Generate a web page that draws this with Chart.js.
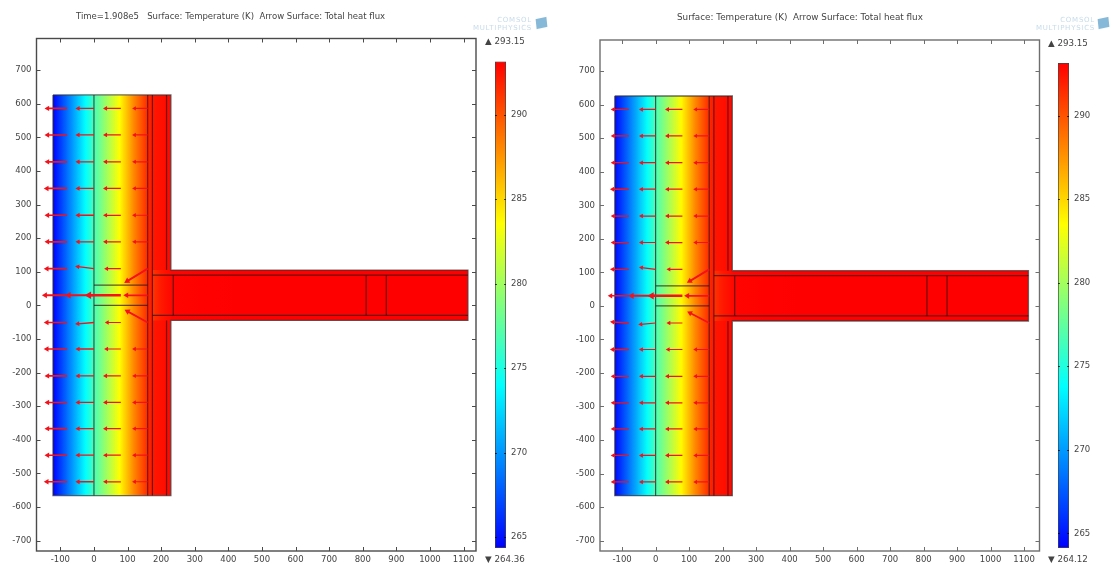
<!DOCTYPE html>
<html>
<head>
<meta charset="utf-8">
<script src="https://cdn.jsdelivr.net/npm/chart.js@4"></script>
<style>
  html, body { margin: 0; padding: 0; background: #fff; overflow: hidden; }
  body { position: relative; width: 1112px; height: 564px; font-family: "DejaVu Sans", sans-serif; color: #444; }
  canvas { position: absolute; filter: blur(0.35px); }
  .txt { position: absolute; font-size: 8.7px; line-height: 10px; white-space: pre; filter: blur(0.2px); }
  .logo { position: absolute; color: #c6dcea; font-size: 7px; letter-spacing: 0.75px; line-height: 7.5px; text-align: right; white-space: pre; filter: blur(0.3px); }
  .cube { position: absolute; width: 11px; height: 10px; background: #86b8d8; transform: rotate(-12deg) skewX(-6deg); filter: blur(0.4px); }
</style>
</head>
<body>
<canvas id="mainL" style="left:0;top:0"></canvas>
<canvas id="barL" style="left:495px;top:50px"></canvas>
<canvas id="mainR" style="left:563px;top:0"></canvas>
<canvas id="barR" style="left:1058px;top:50px"></canvas>

<div class="txt" style="left:76px;top:11px;font-size:8.53px">Time=1.908e5   Surface: Temperature (K)  Arrow Surface: Total heat flux</div>
<div class="txt" style="left:677px;top:12px;font-size:8.8px">Surface: Temperature (K)  Arrow Surface: Total heat flux</div>
<div class="txt" style="left:485px;top:36px">▲ 293.15</div>
<div class="txt" style="left:485px;top:554px">▼ 264.36</div>
<div class="txt" style="left:1048px;top:38px">▲ 293.15</div>
<div class="txt" style="left:1048px;top:554px">▼ 264.12</div>
<div class="logo" style="left:462px;top:17px;width:70px;">COMSOL
MULTIPHYSICS</div>
<div class="cube" style="left:536px;top:18px"></div>
<div class="logo" style="left:1025px;top:17px;width:70px;">COMSOL
MULTIPHYSICS</div>
<div class="cube" style="left:1098px;top:18px"></div>

<script>
  const xTicks = [-100, 0, 100, 200, 300, 400, 500, 600, 700, 800, 900, 1000, 1100];
  const yTicks = [700, 600, 500, 400, 300, 200, 100, 0, -100, -200, -300, -400, -500, -600, -700];
  const barTicks = [265, 270, 275, 280, 285, 290];

  // temperature read across the wall (x in mm, T in K)
  const wallX = [-122, -25, 0, 76, 118, 160, 174, 216, 229];
  const wallT = [264.4, 274, 276.5, 283.6, 288, 291.6, 292.3, 292.7, 292.8];
  const stemX = [174, 200, 236, 420, 1113];
  const stemT = [291.2, 292.2, 293, 293.15, 293.15];

  // outer boundary and inner layer lines
  const outlineX = [-122, 229, 229, 1113, 1113, 229, 229, -122, -122];
  const outlineY = [626, 626, 105, 105, -45, -45, -566, -566, 626];
  const innerLines = [
    [0, 626, 0, -566],
    [160, 626, 160, -566],
    [174, 626, 174, -566],
    [216, 626, 216, 105],
    [216, -45, 216, -566],
    [0, 60, 160, 60],
    [0, 0, 160, 0],
    [174, 90, 1113, 90],
    [174, -30, 1113, -30],
    [236, 90, 236, -30],
    [810, 90, 810, -30],
    [870, 90, 870, -30],
  ];

  // arrow tails, heat flux arrows read row by row, one list per column
  const arrowRows = [586, 507, 427, 348, 268, 189, 109, 30, -51, -130, -210, -289, -367, -446, -525];
  const arrowCols = [-80, 0, 80, 160];

  const leftDx = [
    [-58, -58, -58, -60, -58, -58, -60, -65, -60, -60, -58, -58, -58, -58, -60],
    [-47, -47, -47, -47, -47, -47, -48, -75, -48, -47, -47, -47, -47, -47, -47],
    [-45, -45, -45, -45, -45, -45, -42, -95, -40, -42, -45, -45, -45, -45, -45],
    [-39, -39, -39, -39, -39, -39, -61, -63, -60, -39, -39, -39, -39, -39, -39],
  ];
  const leftDy = [
    [0, 0, 0, 0, 0, 0, 0, 0, 0, 0, 0, 0, 0, 0, 0],
    [0, 0, 0, 0, 0, 0, 6, 0, -4, 0, 0, 0, 0, 0, 0],
    [0, 0, 0, 0, 0, 0, 0, 0, 0, 0, 0, 0, 0, 0, 0],
    [0, 0, 0, 0, 0, 0, -37, 0, 33, 0, 0, 0, 0, 0, 0],
  ];
  const rightDx = [
    [-46, -46, -46, -48, -46, -46, -48, -54, -48, -48, -46, -46, -46, -46, -46],
    [-42, -42, -42, -42, -42, -42, -42, -71, -44, -42, -42, -42, -42, -42, -42],
    [-44, -44, -44, -44, -44, -44, -40, -92, -40, -42, -44, -44, -44, -44, -44],
    [-40, -40, -40, -40, -40, -40, -58, -65, -57, -40, -40, -40, -40, -40, -40],
  ];
  const rightDy = [
    [0, 0, 0, 0, 0, 0, 0, 0, 3, 0, 0, 0, 0, 0, 0],
    [0, 0, 0, 0, 0, 0, 5, 0, -4, 0, 0, 0, 0, 0, 0],
    [0, 0, 0, 0, 0, 0, 0, 0, 0, 0, 0, 0, 0, 0, 0],
    [0, 0, 0, 0, 0, 0, -35, 0, 30, 0, 0, 0, 0, 0, 0],
  ];

  const leftRange = [264.36, 293.15];
  const rightRange = [264.12, 293.15];

  // blue - cyan - yellow - red in equal thirds of the range
  const rainbow = ["#0000ff", "#00ffff", "#ffff00", "#ff0000"];

  function tempColor(t, range) {
    let f = (t - range[0]) / (range[1] - range[0]);
    f = Math.min(1, Math.max(0, f));
    if (f < 1 / 3) return `rgb(0,${Math.round(f * 3 * 255)},255)`;
    if (f < 2 / 3) {
      const k = (f - 1 / 3) * 3;
      return `rgb(${Math.round(k * 255)},255,${Math.round((1 - k) * 255)})`;
    }
    return `rgb(255,${Math.round((1 - f) * 3 * 255)},0)`;
  }

  function profileFill(xs, ts, range) {
    return (c) => {
      const x = c.chart.scales.x;
      if (!c.chart.chartArea || !x) return "#f00";
      const x0 = x.getPixelForValue(xs[0]);
      const x1 = x.getPixelForValue(xs[xs.length - 1]);
      const g = c.chart.ctx.createLinearGradient(x0, 0, x1, 0);
      xs.forEach((v, i) => {
        g.addColorStop((v - xs[0]) / (xs[xs.length - 1] - xs[0]), tempColor(ts[i], range));
      });
      return g;
    };
  }

  // frame and inward tick marks, drawn from the chart's own scales
  function innerTicks(frameColor) {
    return {
      id: "innerTicks",
      afterDraw(chart) {
        const { ctx, chartArea: a, scales } = chart;
        ctx.save();
        ctx.strokeStyle = frameColor;
        ctx.lineWidth = 1;
        scales.x.ticks.forEach((t) => {
          const p = Math.round(scales.x.getPixelForValue(t.value)) + 0.5;
          ctx.beginPath();
          ctx.moveTo(p, a.top); ctx.lineTo(p, a.top + 4);
          ctx.moveTo(p, a.bottom); ctx.lineTo(p, a.bottom - 4);
          ctx.stroke();
        });
        scales.y.ticks.forEach((t) => {
          const p = Math.round(scales.y.getPixelForValue(t.value)) + 0.5;
          ctx.beginPath();
          ctx.moveTo(a.left, p); ctx.lineTo(a.left + 4, p);
          ctx.moveTo(a.right, p); ctx.lineTo(a.right - 4, p);
          ctx.stroke();
        });
        ctx.lineWidth = 1.4;
        ctx.strokeRect(a.left, a.top, a.right - a.left, a.bottom - a.top);
        ctx.restore();
      },
    };
  }

  function arrowDatasets(dxCols, dyCols) {
    const sets = [];
    arrowCols.forEach((cx, c) => {
      arrowRows.forEach((ry, r) => {
        const dx = dxCols[c][r];
        const dy = dyCols[c][r];
        const len = Math.hypot(dx, dy);
        sets.push({
          showLine: true,
          data: [{ x: cx, y: ry }, { x: cx + dx, y: ry + dy }],
          borderColor: "#f5101a",
          backgroundColor: "#f5101a",
          borderWidth: Math.max(1.2, len / 36),
          pointStyle: "triangle",
          pointRadius: [0, 1.3 + len / 32],
          pointBorderWidth: 0,
          pointRotation: (Math.atan2(dx, dy) * 180) / Math.PI,
        });
      });
    });
    return sets;
  }

  function lineDatasets() {
    const sets = innerLines.map((l) => ({
      showLine: true,
      data: [{ x: l[0], y: l[1] }, { x: l[2], y: l[3] }],
      borderColor: "rgba(50,20,20,0.72)",
      borderWidth: 1.2,
      pointRadius: 0,
    }));
    sets.push({
      showLine: true,
      data: outlineX.map((x, i) => ({ x, y: outlineY[i] })),
      borderColor: "rgba(50,50,50,0.72)",
      borderWidth: 1.3,
      pointRadius: 0,
    });
    return sets;
  }

  function makeMain(id, panel) {
    const canvas = document.getElementById(id);
    canvas.width = 480;
    canvas.height = 564;
    const tickFont = { family: "DejaVu Sans", size: 8.5 };
    return new Chart(canvas, {
      type: "scatter",
      data: {
        datasets: [
          ...arrowDatasets(panel.dx, panel.dy),
          ...lineDatasets(),
          {
            showLine: true,
            data: [{ x: stemX[0], y: 105 }, { x: 1113, y: 105 }],
            fill: { value: -45 },
            backgroundColor: profileFill(stemX, stemT, panel.range),
            borderWidth: 0,
            pointRadius: 0,
          },
          {
            showLine: true,
            data: [{ x: wallX[0], y: 626 }, { x: wallX[wallX.length - 1], y: 626 }],
            fill: { value: -566 },
            backgroundColor: profileFill(wallX, wallT, panel.range),
            borderWidth: 0,
            pointRadius: 0,
          },
        ],
      },
      options: {
        responsive: false,
        animation: false,
        layout: { autoPadding: false, padding: { top: panel.top, right: panel.right } },
        plugins: { legend: { display: false }, tooltip: { enabled: false } },
        scales: {
          x: {
            type: "linear",
            min: panel.xRange[0],
            max: panel.xRange[1],
            afterFit: (s) => { s.height = 13; },
            afterBuildTicks: (s) => { s.ticks = xTicks.map((value) => ({ value })); },
            grid: { display: false, drawTicks: false },
            border: { display: false },
            ticks: {
              autoSkip: false,
              maxRotation: 0,
              padding: 4,
              color: "#444",
              font: tickFont,
              callback: (v) => String(v),
            },
          },
          y: {
            min: panel.yRange[0],
            max: panel.yRange[1],
            afterFit: (s) => { s.width = panel.axisWidth; },
            afterBuildTicks: (s) => { s.ticks = yTicks.map((value) => ({ value })); },
            grid: { display: false, drawTicks: false },
            border: { display: false },
            ticks: { autoSkip: false, padding: 5, color: "#444", font: tickFont, callback: (v) => String(v) },
          },
        },
      },
      plugins: [innerTicks(panel.frameColor)],
    });
  }

  const barMarks = {
    id: "barMarks",
    afterDraw(chart) {
      const { ctx, chartArea: a, scales } = chart;
      ctx.save();
      ctx.strokeStyle = "rgba(0,0,0,0.7)";
      scales.y.ticks.forEach((t) => {
        const p = Math.round(scales.y.getPixelForValue(t.value)) + 0.5;
        ctx.beginPath();
        ctx.moveTo(a.left, p); ctx.lineTo(a.left + 2, p);
        ctx.moveTo(a.right, p); ctx.lineTo(a.right - 2, p);
        ctx.stroke();
      });
      ctx.restore();
    },
  };

  function makeBar(id, range, top) {
    const canvas = document.getElementById(id);
    canvas.width = 40;
    canvas.height = 510;
    return new Chart(canvas, {
      type: "bar",
      data: {
        labels: ["T"],
        datasets: [{
          data: [range],
          barPercentage: 1,
          categoryPercentage: 1,
          borderWidth: 1,
          borderColor: "#444",
          borderSkipped: false,
          backgroundColor: (c) => {
            const y = c.chart.scales.y;
            if (!c.chart.chartArea || !y) return rainbow[0];
            const g = c.chart.ctx.createLinearGradient(0, y.getPixelForValue(range[0]), 0, y.getPixelForValue(range[1]));
            rainbow.forEach((col, i) => g.addColorStop(i / 3, col));
            return g;
          },
        }],
      },
      options: {
        responsive: false,
        animation: false,
        layout: { autoPadding: false, padding: { top, bottom: 12 } },
        plugins: { legend: { display: false }, tooltip: { enabled: false } },
        scales: {
          x: { display: false },
          y: {
            position: "right",
            min: range[0],
            max: range[1],
            afterFit: (s) => { s.width = 29; },
            afterBuildTicks: (s) => { s.ticks = barTicks.map((value) => ({ value })); },
            grid: { display: false, drawTicks: false },
            border: { display: false },
            ticks: { padding: 5, color: "#444", font: { family: "DejaVu Sans", size: 8.5 } },
          },
        },
      },
      plugins: [barMarks],
    });
  }

  makeMain("mainL", {
    dx: leftDx, dy: leftDy, range: leftRange,
    xRange: [-171, 1137], yRange: [-731, 794],
    top: 38.5, right: 4, axisWidth: 36.5, frameColor: "#4a4a4a",
  });
  makeMain("mainR", {
    dx: rightDx, dy: rightDy, range: rightRange,
    xRange: [-166, 1146], yRange: [-731, 793],
    top: 40, right: 3.5, axisWidth: 37, frameColor: "#6e6e6e",
  });
  makeBar("barL", leftRange, 11.5);
  makeBar("barR", rightRange, 13);
</script>
</body>
</html>
